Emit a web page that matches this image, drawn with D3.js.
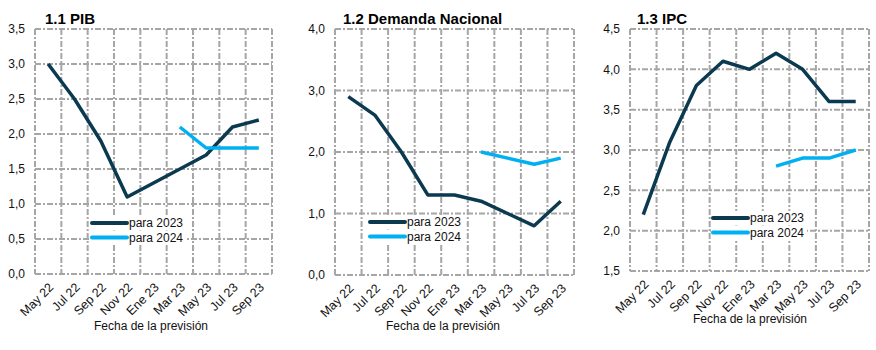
<!DOCTYPE html>
<html><head><meta charset="utf-8">
<script src="https://cdn.jsdelivr.net/npm/d3@7"></script>
<style>
body{margin:0;background:#fff;}
text{font-family:"Liberation Sans",Arial,sans-serif;}
</style></head>
<body><svg id="c" width="876" height="350"></svg>
<script>
const categories = ["May 22","Jul 22","Sep 22","Nov 22","Ene 23","Mar 23","May 23","Jul 23","Sep 23"];
const pib2023 = [3.0,2.5,1.9,1.1,1.3,1.5,1.7,2.1,2.2];
const pib2024 = [null,null,null,null,null,2.1,1.8,1.8,1.8];
const dem2023 = [2.9,2.6,2.0,1.3,1.3,1.2,1.0,0.8,1.2];
const dem2024 = [null,null,null,null,null,2.0,1.9,1.8,1.9];
const ipc2023 = [2.2,3.1,3.8,4.1,4.0,4.2,4.0,3.6,3.6];
const ipc2024 = [null,null,null,null,null,2.8,2.9,2.9,3.0];
const titles = ["1.1 PIB","1.2 Demanda Nacional","1.3 IPC"];
const seriesNames = ["para 2023","para 2024"];
const xTitle = "Fecha de la previsión";

const DARK="#0b3a50", LIGHT="#00b0f0", GRID="#a6a6a6";
const svg = d3.select("#c");

const panels = [
  {title:titles[0], s:[pib2023,pib2024], x0:35,x1:272,y0:29,y1:274, dom:[0,3.5], step:0.5,
   tx:45, xt:151, xty:330, lx:92, ly:223},
  {title:titles[1], s:[dem2023,dem2024], x0:335,x1:574,y0:29,y1:275, dom:[0,4], step:1,
   tx:343, xt:443, xty:330, lx:370, ly:222},
  {title:titles[2], s:[ipc2023,ipc2024], x0:630,x1:869,y0:29,y1:271, dom:[1.5,4.5], step:0.5,
   tx:637, xt:750, xty:323, lx:713, ly:218}
];

panels.forEach(p=>{
  const g = svg.append("g");
  const x = d3.scaleBand().domain(categories).range([p.x0,p.x1]).padding(0);
  const y = d3.scaleLinear().domain(p.dom).range([p.y1,p.y0]);
  const n = Math.round((p.dom[1]-p.dom[0])/p.step);
  const yt = d3.range(n+1).map(i=>p.dom[0]+i*p.step);
  const fmt = v=>d3.format(".1f")(v).replace(".",",");
  const dash="6,2,2,2";
  g.selectAll(".hg").data(yt).join("line")
    .attr("x1",p.x0).attr("x2",p.x1).attr("y1",d=>y(d)).attr("y2",d=>y(d))
    .attr("stroke",GRID).attr("stroke-width",2).attr("stroke-dasharray",dash);
  const vx = categories.map(c=>x(c)).concat([p.x1]);
  g.selectAll(".vg").data(vx).join("line")
    .attr("x1",d=>d).attr("x2",d=>d).attr("y1",p.y0).attr("y2",p.y1)
    .attr("stroke",GRID).attr("stroke-width",2).attr("stroke-dasharray",dash);
  g.selectAll(".yl").data(yt).join("text")
    .attr("x",p.x0-10).attr("y",d=>y(d)).attr("dy","0.35em")
    .attr("text-anchor","end").attr("font-size",12).attr("fill","#111")
    .text(fmt);
  g.selectAll(".xl").data(categories).join("text")
    .attr("transform",d=>`translate(${x(d)+x.bandwidth()/2+3},${p.y1+11}) rotate(-45)`)
    .attr("text-anchor","end").attr("dy","0.35em").attr("font-size",12.5).attr("fill","#111")
    .text(d=>d);
  g.append("text").attr("x",p.xt).attr("y",p.xty).attr("text-anchor","middle")
    .attr("font-size",12).attr("fill","#111").text(xTitle);
  g.append("text").attr("x",p.tx).attr("y",24).attr("font-size",15).attr("font-weight","bold")
    .attr("fill","#000").text(p.title);
  const line = d3.line().defined(d=>d!=null)
    .x((d,i)=>x(categories[i])+x.bandwidth()/2).y(d=>y(d));
  [DARK,LIGHT].forEach((col,k)=>{
    g.append("path").datum(p.s[k]).attr("d",line).attr("fill","none")
      .attr("stroke",col).attr("stroke-width",3.5).attr("stroke-linejoin","round");
  });
  [DARK,LIGHT].forEach((col,k)=>{
    const ly = p.ly + k*14.5;
    g.append("rect").attr("x",p.lx-2).attr("y",ly-7).attr("width",96).attr("height",14).attr("fill","#fff");
    g.append("line").attr("x1",p.lx).attr("x2",p.lx+35).attr("y1",ly).attr("y2",ly)
      .attr("stroke",col).attr("stroke-width",4).attr("stroke-linecap","round");
    g.append("text").attr("x",p.lx+37).attr("y",ly).attr("dy","0.35em").attr("font-size",12)
      .attr("fill","#111").text(seriesNames[k]);
  });
});
</script></body></html>
